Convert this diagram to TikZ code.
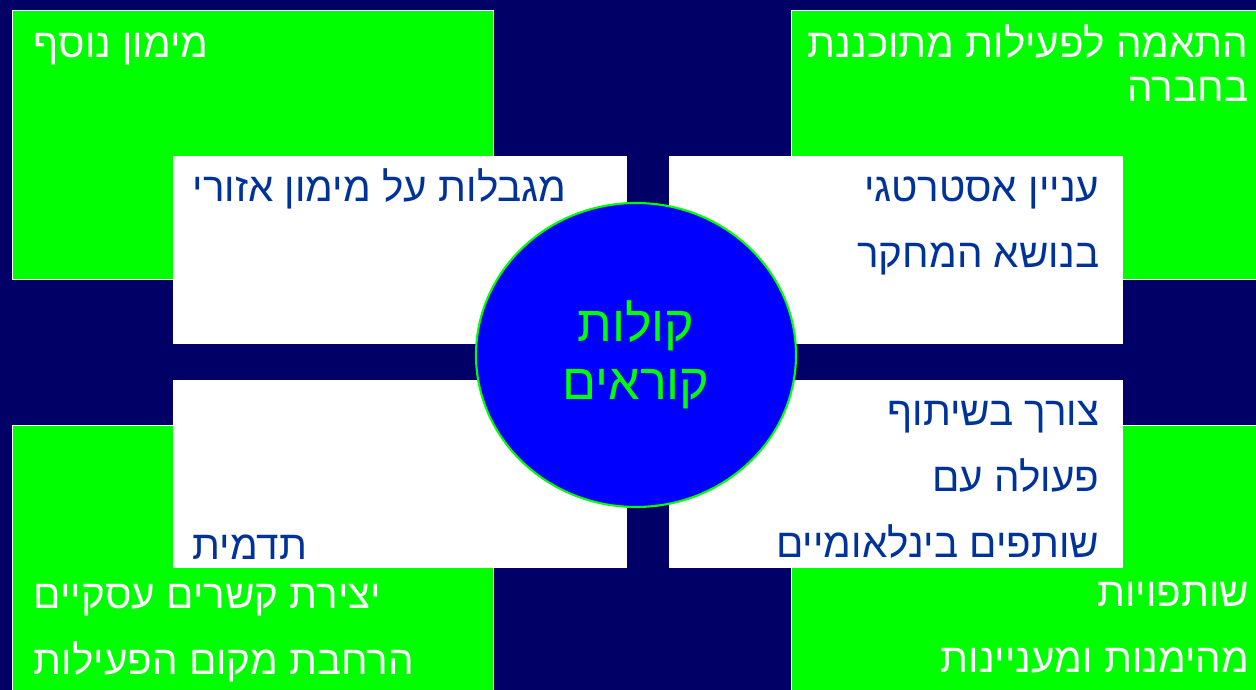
\documentclass[tikz,border=0pt]{standalone}
\usepackage{fontspec}
\setmainfont{Liberation Sans}
\newfontfamily\hebfont[Script=Hebrew]{Liberation Sans}
\TeXXeTstate=1
\usepackage{xcolor}
\usetikzlibrary{shapes.geometric, positioning, calc}

\definecolor{deepnavy}{HTML}{000066}
\definecolor{brightgreen}{HTML}{00FF00}
\definecolor{discblue}{HTML}{0000FF}
\definecolor{inkblue}{HTML}{003399}
\newcommand{\heb}[1]{\beginR #1\endR}

\begin{document}
\begin{tikzpicture}[
    x=0.1mm, y=-0.1mm,
    greenbox/.style={
        draw=white,
        line width=0.4pt,
        fill=brightgreen,
        minimum width=48.1mm,
        minimum height=26.9mm,
        anchor=north west,
        inner sep=0pt
    },
    whitebox/.style={
        fill=white,
        minimum width=45.4mm,
        minimum height=18.8mm,
        anchor=north west,
        inner sep=0pt
    },
    greentext/.style={
        text=white,
        inner sep=0pt,
        font=\hebfont\fontsize{11.5pt}{19.06pt}\selectfont
    },
    bluetext/.style={
        text=inkblue,
        inner sep=0pt,
        font=\hebfont\fontsize{11.5pt}{18.78pt}\selectfont
    },
    disc/.style={
        ellipse,
        draw=brightgreen,
        line width=0.6pt,
        fill=discblue,
        text=brightgreen,
        align=center,
        minimum width=32mm,
        minimum height=30.4mm,
        inner sep=0pt,
        font=\hebfont\fontsize{14.3pt}{16.5pt}\selectfont
    }
]

\useasboundingbox (0,0) rectangle (1256,690);
\fill[deepnavy] (0,0) rectangle (1256,690);

% outer green boxes
\node[greenbox] (fundG) at (12,10) {};
\node[greenbox, minimum width=47.5mm] (planG) at (791,10) {};
\node[greenbox] (linksG) at (12,425) {};
\node[greenbox, minimum width=47.5mm] (trustG) at (791,425) {};

\node[greentext, anchor=base west] (fundT) at ($(fundG.north west)+(21,48)$)
{\heb{מימון נוסף}};
\node[greentext, anchor=base east, align=right,
      font=\hebfont\fontsize{11.5pt}{12.52pt}\selectfont] (planT)
      at ($(planG.north west)+(458,92)$)
{\heb{התאמה לפעילות מתוכננת}\\\heb{בחברה}};
\node[greentext, anchor=base west, align=left] (linksT) at ($(linksG.north west)+(21,250)$)
{\heb{יצירת קשרים עסקיים}\\\heb{הרחבת מקום הפעילות}};
\node[greentext, anchor=base east, align=right] (trustT) at ($(trustG.north west)+(459,248)$)
{\heb{שותפויות}\\\heb{מהימנות ומעניינות}};

% inner white boxes
\node[whitebox] (limitW) at (172,155) {};
\node[whitebox] (interestW) at (668,155) {};
\node[whitebox] (imageW) at (172,379) {};
\node[whitebox] (partnerW) at (668,379) {};

\node[bluetext, anchor=base west] (limitT) at ($(limitW.north west)+(20,47)$)
{\heb{מגבלות על מימון אזורי}};
\node[bluetext, anchor=base east, align=right] (interestT) at ($(interestW.north west)+(432,113)$)
{\heb{עניין אסטרטגי}\\\heb{בנושא המחקר}};
\node[bluetext, anchor=base west] (imageT) at ($(imageW.north west)+(20,181)$)
{\heb{תדמית}};
\node[bluetext, anchor=base east, align=right] (partnerT) at ($(partnerW.north west)+(432,179)$)
{\heb{צורך בשיתוף}\\\heb{פעולה עם}\\\heb{שותפים בינלאומיים}};

% centre
\node[disc] (calls) at (636,355) {\heb{קולות}\\\heb{קוראים}};

\end{tikzpicture}
\end{document}
